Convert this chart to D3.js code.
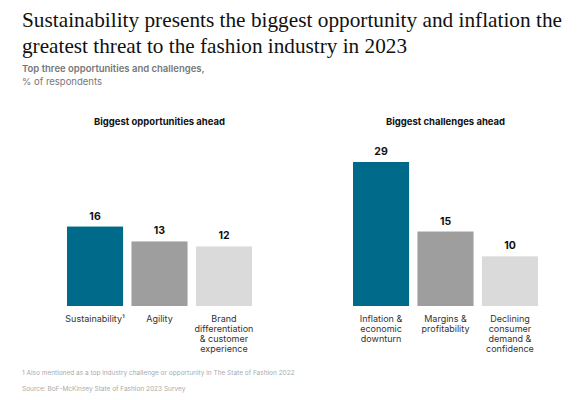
<!DOCTYPE html>
<html>
<head>
<script src="https://cdn.jsdelivr.net/npm/d3@7"></script>
<style>body{margin:0;background:#fff;}</style>
</head>
<body>
<script>
const oppCategories = [["Sustainability¹"], ["Agility"], ["Brand", "differentiation", "& customer", "experience"]];
const oppValues = [16, 13, 12];
const chalCategories = [["Inflation &", "economic", "downturn"], ["Margins &", "profitability"], ["Declining", "consumer", "demand &", "confidence"]];
const chalValues = [29, 15, 10];
const barColors = ["#006a8b", "#9e9e9e", "#dadada"];

const width = 586, height = 400;
const baseline = 306;
const svg = d3.select("body").append("svg").attr("width", width).attr("height", height);

svg.append("text").attr("x", 22).attr("y", 27)
	.attr("font-family", "'Liberation Serif', serif").attr("font-size", 21.5).attr("fill", "#111")
	.attr("textLength", 540).attr("lengthAdjust", "spacingAndGlyphs")
	.text("Sustainability presents the biggest opportunity and inflation the");
svg.append("text").attr("x", 22).attr("y", 53)
	.attr("font-family", "'Liberation Serif', serif").attr("font-size", 21.5).attr("fill", "#111")
	.attr("textLength", 385).attr("lengthAdjust", "spacingAndGlyphs")
	.text("greatest threat to the fashion industry in 2023");
svg.append("text").attr("x", 22).attr("y", 72)
	.attr("font-family", "Inter, sans-serif").attr("font-size", 9.5).attr("font-weight", 600).attr("fill", "#777")
	.text("Top three opportunities and challenges,");
svg.append("text").attr("x", 22).attr("y", 85)
	.attr("font-family", "Inter, sans-serif").attr("font-size", 9.5).attr("fill", "#777")
	.text("% of respondents");

var y = d3.scaleLinear().domain([0, 29]).range([baseline, 162]);

function panel(title, cats, vals, x0, x1) {
	var x = d3.scaleBand().domain(d3.range(vals.length)).range([x0, x1]).paddingInner(0.13);
	var g = svg.append("g");
	g.append("text").attr("x", (x0 + x1) / 2).attr("y", 125).attr("text-anchor", "middle")
		.attr("font-family", "Inter, sans-serif").attr("font-size", 9.5).attr("font-weight", 700).attr("fill", "#111")
		.text(title);
	g.selectAll("rect").data(vals).enter().append("rect")
		.attr("x", function(d, i) { return x(i); })
		.attr("y", function(d) { return y(d); })
		.attr("width", x.bandwidth())
		.attr("height", function(d) { return baseline - y(d); })
		.attr("fill", function(d, i) { return barColors[i]; });
	g.selectAll(".val").data(vals).enter().append("text")
		.attr("x", function(d, i) { return x(i) + x.bandwidth() / 2; })
		.attr("y", function(d) { return y(d) - 7; })
		.attr("text-anchor", "middle")
		.attr("font-family", "Inter, sans-serif").attr("font-size", 10.5).attr("font-weight", 700).attr("fill", "#111")
		.text(function(d) { return d; });
	cats.forEach(function(lines, i) {
		var t = g.append("text").attr("text-anchor", "middle")
			.attr("font-family", "Inter, sans-serif").attr("font-size", 9).attr("fill", "#333");
		lines.forEach(function(l, j) {
			t.append("tspan").attr("x", x(i) + x.bandwidth() / 2).attr("y", 322 + j * 10).text(l);
		});
	});
}
panel("Biggest opportunities ahead", oppCategories, oppValues, 67, 252);
panel("Biggest challenges ahead", chalCategories, chalValues, 353, 538);

svg.append("text").attr("x", 22).attr("y", 375)
	.attr("font-family", "Inter, sans-serif").attr("font-size", 6.5).attr("fill", "#aaa")
	.text("1 Also mentioned as a top industry challenge or opportunity in The State of Fashion 2022");
svg.append("text").attr("x", 22).attr("y", 391)
	.attr("font-family", "Inter, sans-serif").attr("font-size", 6.5).attr("fill", "#aaa")
	.text("Source: BoF-McKinsey State of Fashion 2023 Survey");
</script>
</body>
</html>
